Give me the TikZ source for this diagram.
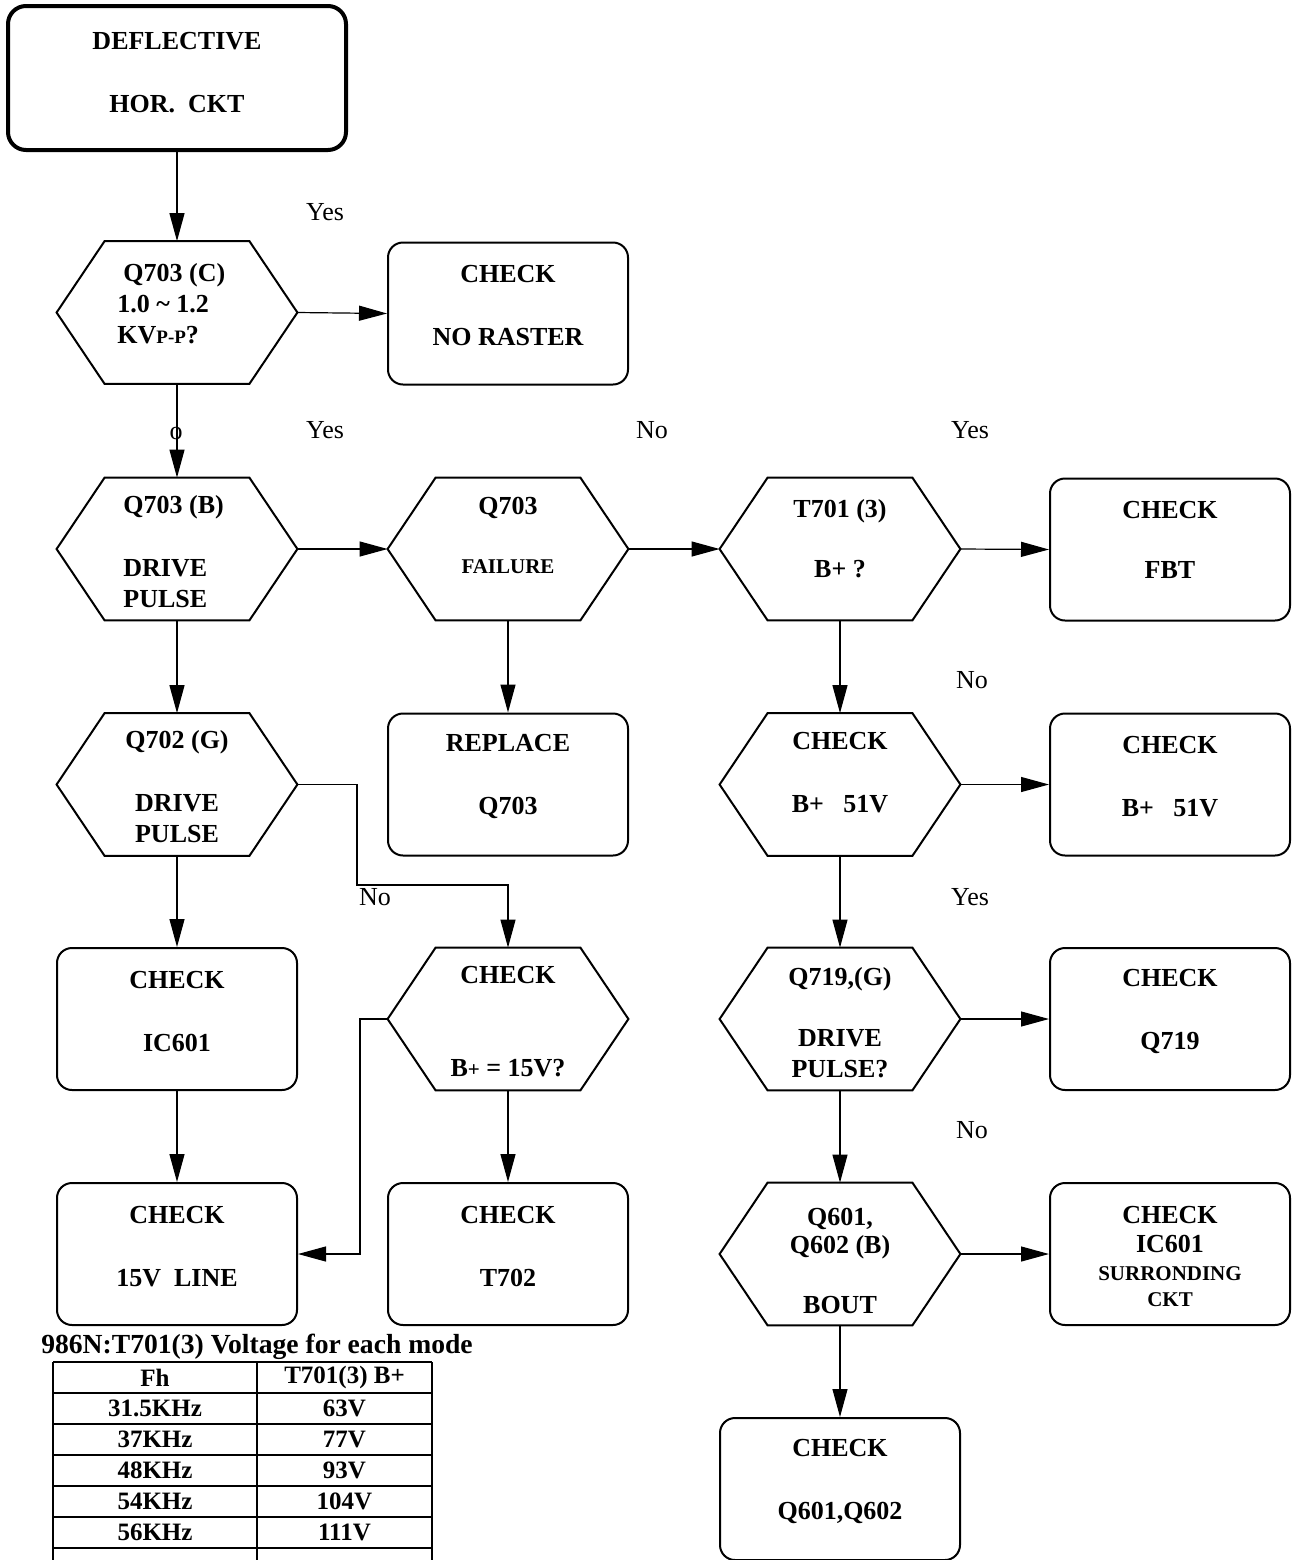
\documentclass[tikz,border=0pt]{standalone}
\usepackage{fontspec}
\setmainfont{Liberation Serif}
\usetikzlibrary{arrows.meta}
\newcommand{\sm}{\fontsize{10.5}{12}\selectfont}
\newcommand{\smp}{\fontsize{9.5}{10}\selectfont}
\begin{document}
\begin{tikzpicture}[x=0.5pt,y=-0.5pt,
 boxnode/.style={draw,line width=1pt,rounded corners=7.5pt,minimum width=120pt,minimum height=71pt,inner sep=0pt},
 hexnode/.style={minimum width=120pt,minimum height=71pt,inner sep=0pt},
 txt/.style={align=center,font=\fontsize{13}{15.5}\selectfont\bfseries,inner sep=0pt},
 lbl/.style={font=\fontsize{13}{15.5}\selectfont,inner sep=0pt},
 conn/.style={line width=0.6pt,-{Triangle[length=14pt,width=7.5pt]}},
 wire/.style={line width=0.6pt},
 hexline/.style={line width=1pt,line join=miter},
 tabline/.style={line width=0.9pt},
 tabtxt/.style={font=\fontsize{12.5}{14}\selectfont\bfseries,inner sep=0pt}]
\useasboundingbox (0,0) rectangle (1292,1560);

% ---------- shapes ----------
\node[boxnode,line width=2pt,rounded corners=9pt,minimum width=169pt,minimum height=72pt] (deflect) at (177,78) {};
\node[hexnode] (q703c) at (177,312.5) {};
\node[boxnode] (noraster) at (508,313.5) {};
\node[hexnode] (q703b) at (177,549) {};
\node[hexnode] (fail) at (508,549) {};
\node[hexnode] (t701) at (840,549) {};
\node[boxnode] (fbt) at (1170,549.5) {};
\node[hexnode] (q702) at (177,784.5) {};
\node[boxnode] (replace) at (508,784.5) {};
\node[hexnode] (b51) at (840,784.5) {};
\node[boxnode] (b51box) at (1170,784.5) {};
\node[boxnode] (ic601) at (177,1019) {};
\node[hexnode] (b15) at (508,1019) {};
\node[hexnode] (q719) at (840,1019) {};
\node[boxnode] (q719box) at (1170,1019) {};
\node[boxnode] (line15) at (177,1254) {};
\node[boxnode] (t702) at (508,1254) {};
\node[hexnode] (q601) at (840,1254) {};
\node[boxnode] (ic601s) at (1170,1254) {};
\node[boxnode] (q601box) at (840,1489) {};

\foreach \n in {q703c,q703b,fail,t701,q702,b51,b15,q719,q601}
  \draw[hexline] (\n.west) -- ([xshift=24pt]\n.north west) -- ([xshift=-24pt]\n.north east)
     -- (\n.east) -- ([xshift=-24pt]\n.south east) -- ([xshift=24pt]\n.south west) -- cycle;

% ---------- texts ----------
\node[txt] (deflect-t) at (177,72.5) {DEFLECTIVE\\[16pt]HOR.\ \ CKT};
\node[txt,align=left,anchor=west] (q703c-t) at (117,303.5) {\hspace*{3pt}Q703 (C)\\1.0 \textasciitilde{} 1.2\\KV{\smp P-P}?};
\node[txt] (noraster-t) at (508,305.5) {CHECK\\[16pt]NO RASTER};
\node[txt,align=left,anchor=west] (q703b-t) at (123,552) {Q703 (B)\\[16pt]DRIVE\\PULSE};
\node[txt] (fail-t) at (508,535) {Q703\\[14pt]{\sm FAILURE}};
\node[txt] (t701-t) at (840,539) {T701 (3)\\[14.5pt]B+ ?};
\node[txt] (fbt-t) at (1170,540) {CHECK\\[14.5pt]FBT};
\node[txt] (q702-t) at (177,787) {Q702 (G)\\[16pt]DRIVE\\PULSE};
\node[txt] (replace-t) at (508,776.5) {REPLACE\\[16pt]Q703};
\node[txt] (b51-t) at (840,772.5) {CHECK\\[16pt]B+\ \ \ 51V};
\node[txt] (b51box-t) at (1170,776.5) {CHECK\\[16pt]B+\ \ \ 51V};
\node[txt] (ic601-t) at (177,1012) {CHECK\\[16pt]IC601};
\node[txt] (b15-t) at (508,1022) {CHECK\\[31pt]B{\sm+} = 15V?};
\node[txt] (q719-t) at (840,1022.5) {Q719,(G)\\[15pt]DRIVE\\PULSE?};
\node[txt] (q719box-t) at (1170,1011.5) {CHECK\\[16pt]Q719};
\node[txt] (line15-t) at (177,1246.5) {CHECK\\[16pt]15V\ \ LINE};
\node[txt] (t702-t) at (508,1246.5) {CHECK\\[16pt]T702};
\node[txt] (q601-t) at (840,1261) {Q601,\\[-1.5pt]Q602 (B)\\[14.5pt]BOUT};
\node[txt] (ic601s-t) at (1170,1256.5) {CHECK\\[-1pt]IC601\\[-1.3pt]{\sm SURRONDING}\\[-2.5pt]{\sm CKT}};
\node[txt] (q601box-t) at (840,1481.5) {CHECK\\[16pt]Q601,Q602};

% ---------- connectors ----------
\draw[conn] (deflect.south) -- (q703c.north);
\draw[conn] (q703c.east) -- (noraster.west);
\draw[conn] (q703c.south) -- (q703b.north);
\draw[conn] (q703b.east) -- (fail.west);
\draw[conn] (fail.east) -- (t701.west);
\draw[conn] (t701.east) -- (fbt.west);
\draw[conn] (q703b.south) -- (q702.north);
\draw[conn] (fail.south) -- (replace.north);
\draw[conn] (t701.south) -- (b51.north);
\draw[conn] (b51.east) -- (b51box.west);
\draw[conn] (q702.south) -- (ic601.north);
\draw[conn] (ic601.south) -- (line15.north);
\coordinate (k1) at (357,885);
\draw[conn] (q702.east) -| (k1) -| (b15.north);
\coordinate (k2) at (360,1019);
\draw[conn] (b15.west) -- (k2) |- (line15.east);
\draw[conn] (b15.south) -- (t702.north);
\draw[conn] (b51.south) -- (q719.north);
\draw[conn] (q719.east) -- (q719box.west);
\draw[conn] (q719.south) -- (q601.north);
\draw[conn] (q601.east) -- (ic601s.west);
\draw[conn] (q601.south) -- (q601box.north);

% ---------- labels ----------
\node[lbl] (yes1) at (325,212) {Yes};
\node[lbl] (olbl) at (176,433) {o};
\node[lbl] (yes2) at (325,430) {Yes};
\node[lbl] (no1) at (652,430) {No};
\node[lbl] (yes3) at (970,430) {Yes};
\node[lbl] (no2) at (972,680) {No};
\node[lbl] (no3) at (375,897) {No};
\node[lbl] (yes4) at (970,897) {Yes};
\node[lbl] (no4) at (972,1130) {No};

% ---------- table ----------
\node[font=\fontsize{13.8}{15}\selectfont\bfseries,inner sep=0pt] (tabtitle) at (257,1347) {986N:T701(3) Voltage for each mode};
\foreach \yy in {1362,1393,1424,1455,1486,1517,1548}
  \draw[tabline] (53,\yy) -- (432,\yy);
\foreach \xx in {53,257,432}
  \draw[tabline] (\xx,1362) -- (\xx,1560);
\node[tabtxt] (h1) at (155,1377.5) {Fh};
\node[tabtxt] (h2) at (344.5,1377.5) {T701(3) B+};
\node[tabtxt] (r1a) at (155,1408.5) {31.5KHz};
\node[tabtxt] (r1b) at (344.5,1408.5) {63V};
\node[tabtxt] (r2a) at (155,1439.5) {37KHz};
\node[tabtxt] (r2b) at (344.5,1439.5) {77V};
\node[tabtxt] (r3a) at (155,1470.5) {48KHz};
\node[tabtxt] (r3b) at (344.5,1470.5) {93V};
\node[tabtxt] (r4a) at (155,1501.5) {54KHz};
\node[tabtxt] (r4b) at (344.5,1501.5) {104V};
\node[tabtxt] (r5a) at (155,1532.5) {56KHz};
\node[tabtxt] (r5b) at (344.5,1532.5) {111V};
\end{tikzpicture}
\end{document}
